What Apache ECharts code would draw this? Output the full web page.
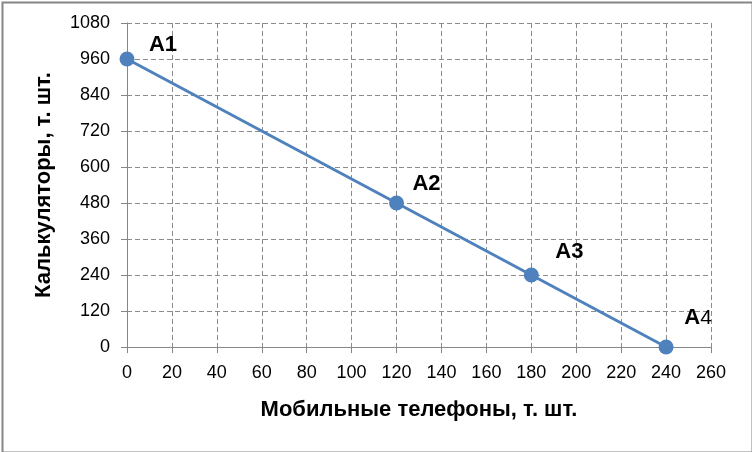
<!DOCTYPE html>
<html><head><meta charset="utf-8">
<script src="https://cdn.jsdelivr.net/npm/echarts@6/dist/echarts.min.js"></script>
<style>html,body{margin:0;padding:0;background:#fff}#c{width:752px;height:452px}</style>
</head><body><div id="c"></div>
<script>
const pointNames = ['A1', 'A2', 'A3', 'A4'];
const phones = [0, 120, 180, 240];
const calculators = [960, 480, 240, 0];
const xTitle = 'Мобильные телефоны, т. шт.';
const yTitle = 'Калькуляторы, т. шт.';

const labelOffsets = [[36, -14], [30, -19], [38, -23], [32, -29]];
const font = 'Liberation Sans, Arial, sans-serif';

const chart = echarts.init(document.getElementById('c'), null, {renderer: 'canvas'});
const data = phones.map((x, i) => ({
  value: [x, calculators[i]],
  label: {
    show: true,
    position: 'inside',
    offset: labelOffsets[i],
    formatter: () => {
      const n = pointNames[i];
      return '{b|' + n.charAt(0) + '}{' + (i === 3 ? 'n' : 'b') + '|' + n.slice(1) + '}';
    },
    rich: {
      b: {fontFamily: font, fontWeight: 'bold', fontSize: 22, color: '#000'},
      n: {fontFamily: font, fontWeight: 'normal', fontSize: 21, color: '#000'}
    }
  }
}));

chart.setOption({
  animation: false,
  backgroundColor: '#fff',
  grid: {left: 127, right: 41, top: 23, bottom: 105, containLabel: false},
  xAxis: {
    type: 'value', min: 0, max: 260, interval: 20,
    name: xTitle, nameLocation: 'middle', nameGap: 52,
    nameTextStyle: {fontFamily: font, fontWeight: 'bold', fontSize: 22, color: '#000'},
    axisLine: {show: true, onZero: false, lineStyle: {color: '#868686', width: 1}},
    axisTick: {show: true, length: 6, lineStyle: {color: '#868686'}},
    axisLabel: {fontFamily: font, fontSize: 18, color: '#000', margin: 17, formatter: v => String(v)},
    splitLine: {show: true, lineStyle: {color: '#8c8c8c', type: [5, 3], width: 1}}
  },
  yAxis: {
    type: 'value', min: 0, max: 1080, interval: 120,
    name: yTitle, nameLocation: 'middle', nameGap: 72, nameRotate: 90,
    nameTextStyle: {fontFamily: font, fontWeight: 'bold', fontSize: 22, color: '#000'},
    axisLine: {show: true, onZero: false, lineStyle: {color: '#868686', width: 1}},
    axisTick: {show: true, length: 6, lineStyle: {color: '#868686'}},
    axisLabel: {fontFamily: font, fontSize: 18, color: '#000', margin: 17, formatter: v => String(v)},
    splitLine: {show: true, lineStyle: {color: '#8c8c8c', type: [5, 3], width: 1}}
  },
  graphic: [{
    type: 'rect', left: 0, top: 0, z: 100,
    shape: {x: 1, y: 1, width: 750, height: 450},
    style: {fill: 'none', stroke: '#868686', lineWidth: 2}
  }],
  series: [{
    type: 'line',
    data: data,
    symbol: 'circle', symbolSize: 15,
    lineStyle: {color: '#4f81bd', width: 3},
    itemStyle: {color: '#4f81bd'},
    z: 3
  }]
});
</script></body></html>
